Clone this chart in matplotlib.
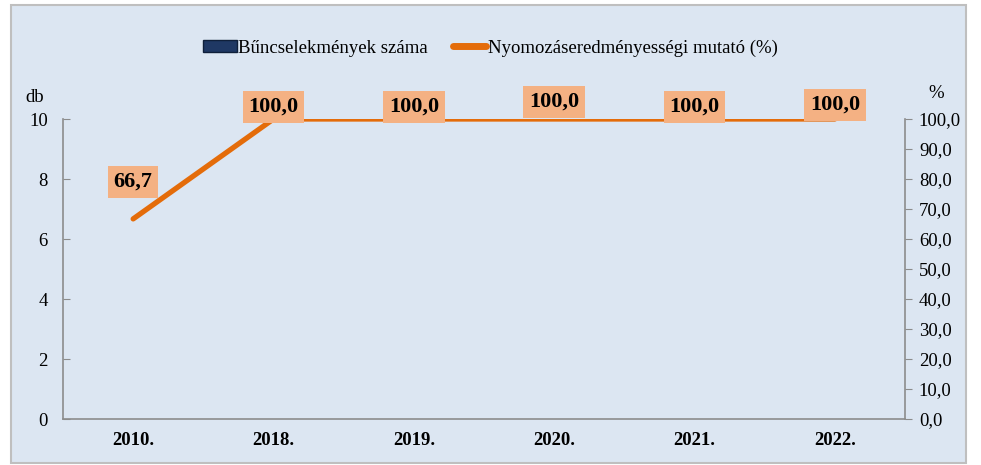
import matplotlib
matplotlib.use("Agg")
import matplotlib.pyplot as plt
from matplotlib.patches import Rectangle, Patch
from matplotlib.lines import Line2D

plt.rcParams['font.family'] = ['Liberation Serif', 'DejaVu Serif']

# data
years = ['2010.', '2018.', '2019.', '2020.', '2021.', '2022.']
crimes = [0, 0, 0, 0, 0, 0]                      # Bűncselekmények száma (db)
rate = [66.7, 100.0, 100.0, 100.0, 100.0, 100.0]  # Nyomozáseredményességi mutató (%)
label_lift = [37, 12, 12, 17, 12, 14]             # px above the point

W, H = 981, 465
bg = '#dce6f2'
grey = '#8c8c8c'
orange = '#e46c0a'
navy = '#1f3864'

fig = plt.figure(figsize=(W / 100, H / 100), dpi=100, facecolor='white')
fig.patches.append(Rectangle((11 / W, 2 / H), (966 - 11) / W, (460 - 2) / H,
                             transform=fig.transFigure, facecolor=bg,
                             edgecolor='#bfbfbf', linewidth=1.5, zorder=-1))

ax1 = fig.add_axes([63 / W, (H - 419) / H, (905 - 63) / W, (419 - 119) / H])
ax1.set_facecolor('none')
x = range(len(years))
ax1.bar(x, crimes, width=0.5, color=navy)
ax1.set_ylim(0, 10)
ax1.set_yticks(range(0, 11, 2))
ax1.set_xlim(-0.5, len(years) - 0.5)
ax1.set_xticks(list(x))
ax1.set_xticklabels(years, fontweight='bold', fontsize=13.5)
ax1.tick_params(axis='x', length=0, pad=9)
ax1.tick_params(axis='y', direction='in', length=5, color=grey, labelsize=13.5, pad=11)
for s in ['top', 'right']:
    ax1.spines[s].set_visible(False)
for s in ['left', 'bottom']:
    ax1.spines[s].set_color(grey)
    ax1.spines[s].set_linewidth(1.2)

ax2 = ax1.twinx()
ax2.plot(x, rate, color=orange, linewidth=3.8, solid_capstyle='round')
ax2.set_ylim(0, 100)
ax2.set_yticks(range(0, 101, 10))
ax2.set_yticklabels([f"{v:.1f}".replace('.', ',') for v in range(0, 101, 10)])
ax2.tick_params(axis='y', direction='out', length=5, color=grey, labelsize=13.5, pad=5)
for s in ['top', 'left', 'bottom']:
    ax2.spines[s].set_visible(False)
ax2.spines['right'].set_color(grey)
ax2.spines['right'].set_linewidth(1.2)

for i, v in enumerate(rate):
    ax2.annotate(f"{v:.1f}".replace('.', ','), (i, v),
                 xytext=(0, label_lift[i] * 0.72), textcoords='offset points',
                 ha='center', va='center', fontsize=16, fontweight='bold',
                 bbox=dict(boxstyle='square,pad=0.26', facecolor='#f4b183',
                           edgecolor='none'), zorder=5)

fig.text(35 / W, 1 - 97 / H, 'db', fontsize=13.5, ha='center', va='center')
fig.text(936 / W, 1 - 93 / H, '%', fontsize=13.5, ha='center', va='center')

handles = [Patch(facecolor=navy, edgecolor='#0f1f3a'),
           Line2D([0], [0], color=orange, linewidth=5, solid_capstyle='round')]
fig.legend(handles, ['Bűncselekmények száma', 'Nyomozáseredményességi mutató (%)'],
           loc='center', bbox_to_anchor=(0.5, 1 - 48 / H), ncol=2, frameon=False,
           fontsize=13.5, handlelength=1.8, handleheight=0.6, handletextpad=0.1,
           columnspacing=1.3)

fig.savefig('out.png', dpi=100, facecolor=fig.get_facecolor())
